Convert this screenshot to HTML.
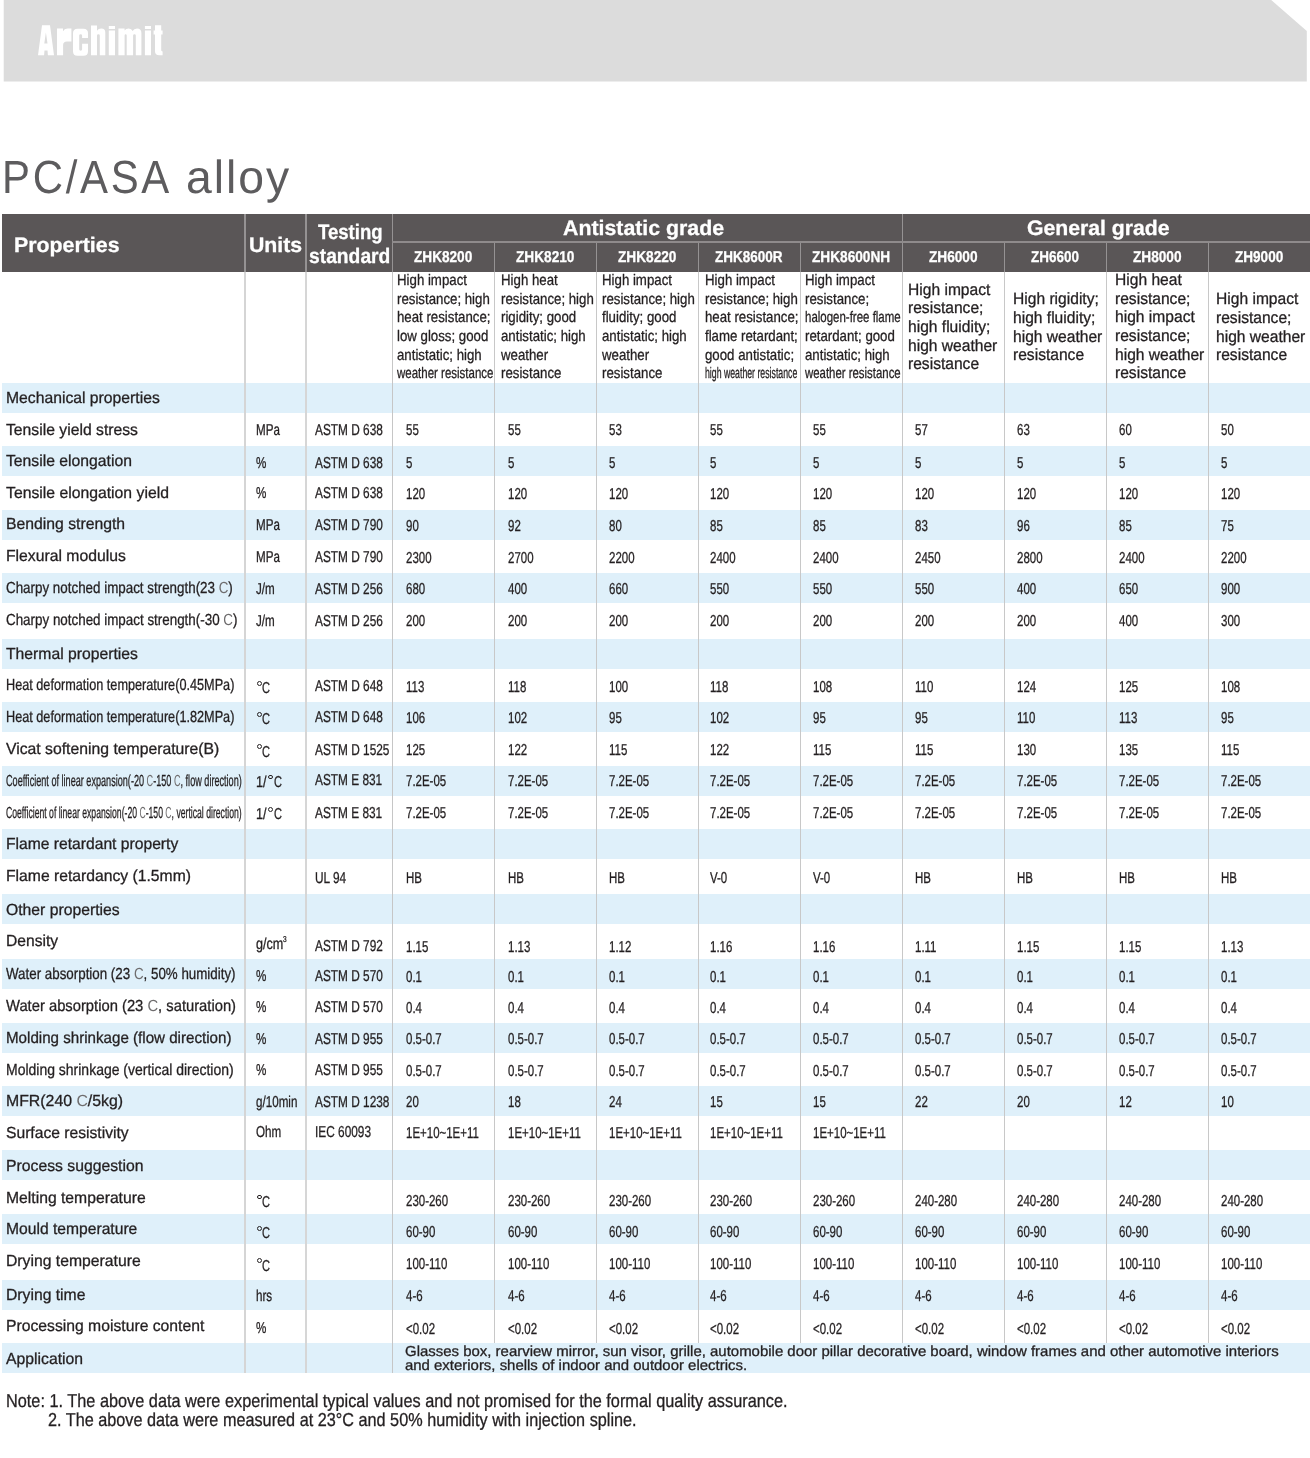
<!DOCTYPE html>
<html><head><meta charset="utf-8"><style>
html,body{margin:0;padding:0;background:#fff;}
body{width:1310px;height:1458px;position:relative;overflow:hidden;font-family:"Liberation Sans",sans-serif;color:#231f20;text-rendering:geometricPrecision;}
.t{position:absolute;white-space:nowrap;line-height:1;transform-origin:0 0;-webkit-text-stroke-width:0.3px;}
.r{position:absolute;}
.dc{color:#6f6d6e;-webkit-text-stroke-width:0;}
</style></head><body><div id="w" style="position:absolute;left:0;top:0;width:1310px;height:1458px;will-change:transform;">
<svg class="r" style="left:0;top:0" width="1310" height="90"><polygon points="3.7,0 1271.2,0 1306.8,31 1306.8,81.6 3.7,81.6" fill="#dcdcdc"/></svg>
<svg class="r" style="left:0;top:0" width="200" height="70"><g fill="#ffffff" fill-rule="evenodd"><path d="M38,55.3 L42,25.3 H50 L54,55.3 H47.9 L47.5,50.6 H44.5 L44.1,55.3 Z M44.3,43.6 L45.9,32.6 L47.5,43.6 Z"/><path d="M57,55.3 V28.6 H63 V31.2 Q64.3,28.6 67.5,28.6 H71.4 V41.4 H67 Q63.1,41.4 63.1,45 V55.3 Z"/><path d="M88,37.9 H82.1 V35.6 Q82.1,34.2 80.65,34.2 Q79.2,34.2 79.2,35.6 V49.3 Q79.2,50.7 80.65,50.7 Q82.1,50.7 82.1,49.3 V43.8 H88 V51.3 Q88,55.8 83.5,55.8 H77.5 Q73,55.8 73,51.3 V33.3 Q73,28.8 77.5,28.8 H83.5 Q88,28.8 88,33.3 Z"/><path d="M91,55.3 V25.6 H97 V30.8 Q98.3,28.5 101.3,28.5 Q105.3,28.5 105.3,32.5 V55.3 H99.8 V35.6 Q99.8,34.2 98.4,34.2 Q97,34.2 97,35.6 V55.3 Z"/><path d="M108.8,25.9 H115 V28.9 H108.8 Z M108.8,30.4 H115 V55.3 H108.8 Z"/><path d="M118.4,55.3 V28.5 H124.6 V30.6 Q125.8,28.5 128.6,28.5 Q131.6,28.5 132.6,31 Q134,28.5 137,28.5 Q141.4,28.5 141.4,33 V55.3 H135.8 V35.6 Q135.8,34.2 134.45,34.2 Q133.1,34.2 133.1,35.6 V55.3 H126.7 V35.6 Q126.7,34.2 125.65,34.2 Q124.6,34.2 124.6,35.6 V55.3 Z"/><path d="M144.9,25.9 H151 V28.9 H144.9 Z M144.9,30.4 H151 V55.3 H144.9 Z"/><path d="M155,25.3 H161.2 V30.4 H162.6 V34.4 H161.2 V50.3 Q161.2,51.4 162.6,51.4 V55.3 H159.3 Q155,55.3 155,51.2 V34.4 H153.6 V30.4 H155 Z"/></g></svg>
<div class="t" style="left:2.26px;top:154.00px;font-size:46.5px;transform:scaleX(0.9017);color:#5d5c5e;-webkit-text-stroke-width:0;letter-spacing:3.0px;">PC/ASA</div>
<div class="t" style="left:185.85px;top:154.00px;font-size:46.5px;transform:scaleX(0.9960);color:#5d5c5e;-webkit-text-stroke-width:0;letter-spacing:2.0px;">alloy</div>
<div class="r" style="left:1.5px;top:213.8px;width:1308.5px;height:57.80000000000001px;background:#5a5657;"></div>
<div class="r" style="left:244px;top:213.8px;width:2px;height:57.80000000000001px;background:#959293;"></div>
<div class="r" style="left:305px;top:213.8px;width:2px;height:57.80000000000001px;background:#959293;"></div>
<div class="r" style="left:392px;top:213.8px;width:1.3px;height:57.80000000000001px;background:#959293;"></div>
<div class="r" style="left:902px;top:213.8px;width:1.3px;height:57.80000000000001px;background:#959293;"></div>
<div class="r" style="left:494px;top:242.0px;width:1.3px;height:29.600000000000023px;background:#959293;"></div>
<div class="r" style="left:596px;top:242.0px;width:1.3px;height:29.600000000000023px;background:#959293;"></div>
<div class="r" style="left:698px;top:242.0px;width:1.3px;height:29.600000000000023px;background:#959293;"></div>
<div class="r" style="left:800px;top:242.0px;width:1.3px;height:29.600000000000023px;background:#959293;"></div>
<div class="r" style="left:1004px;top:242.0px;width:1.3px;height:29.600000000000023px;background:#959293;"></div>
<div class="r" style="left:1106px;top:242.0px;width:1.3px;height:29.600000000000023px;background:#959293;"></div>
<div class="r" style="left:1208px;top:242.0px;width:1.3px;height:29.600000000000023px;background:#959293;"></div>
<div class="r" style="left:392.0px;top:241.0px;width:918px;height:1.8px;background:#8f8b8c;"></div>
<div class="t" style="left:13.87px;top:235.00px;font-size:21px;font-weight:bold;transform:scaleX(1.0158);color:#ffffff;">Properties</div>
<div class="t" style="left:248.52px;top:235.00px;font-size:21px;font-weight:bold;transform:scaleX(1.0123);color:#ffffff;">Units</div>
<div class="t" style="left:318.30px;top:222.00px;font-size:21px;font-weight:bold;transform:scaleX(0.8841);color:#ffffff;">Testing</div>
<div class="t" style="left:308.63px;top:246.00px;font-size:21px;font-weight:bold;transform:scaleX(0.9173);color:#ffffff;">standard</div>
<div class="t" style="left:563.47px;top:218.00px;font-size:21px;font-weight:bold;transform:scaleX(1.0149);color:#ffffff;">Antistatic grade</div>
<div class="t" style="left:1027.03px;top:218.00px;font-size:21px;font-weight:bold;transform:scaleX(1.0097);color:#ffffff;">General grade</div>
<div class="t" style="left:414.39px;top:250.00px;font-size:15.7px;font-weight:bold;transform:scaleX(0.8671);color:#ffffff;">ZHK8200</div>
<div class="t" style="left:516.29px;top:250.00px;font-size:15.7px;font-weight:bold;transform:scaleX(0.8701);color:#ffffff;">ZHK8210</div>
<div class="t" style="left:618.29px;top:250.00px;font-size:15.7px;font-weight:bold;transform:scaleX(0.8701);color:#ffffff;">ZHK8220</div>
<div class="t" style="left:715.40px;top:250.00px;font-size:15.7px;font-weight:bold;transform:scaleX(0.8594);color:#ffffff;">ZHK8600R</div>
<div class="t" style="left:812.49px;top:250.00px;font-size:15.7px;font-weight:bold;transform:scaleX(0.8705);color:#ffffff;">ZHK8600NH</div>
<div class="t" style="left:928.79px;top:250.00px;font-size:15.7px;font-weight:bold;transform:scaleX(0.8697);color:#ffffff;">ZH6000</div>
<div class="t" style="left:1031.20px;top:250.00px;font-size:15.7px;font-weight:bold;transform:scaleX(0.8588);color:#ffffff;">ZH6600</div>
<div class="t" style="left:1132.99px;top:250.00px;font-size:15.7px;font-weight:bold;transform:scaleX(0.8697);color:#ffffff;">ZH8000</div>
<div class="t" style="left:1234.69px;top:250.00px;font-size:15.7px;font-weight:bold;transform:scaleX(0.8642);color:#ffffff;">ZH9000</div>
<div class="t" style="left:396.90px;top:273.00px;font-size:15.3px;transform:scaleX(0.8660);">High impact</div>
<div class="t" style="left:396.90px;top:292.00px;font-size:15.3px;transform:scaleX(0.8660);">resistance; high</div>
<div class="t" style="left:396.90px;top:310.00px;font-size:15.3px;transform:scaleX(0.8660);">heat resistance;</div>
<div class="t" style="left:396.90px;top:329.00px;font-size:15.3px;transform:scaleX(0.8660);">low gloss; good</div>
<div class="t" style="left:396.90px;top:348.00px;font-size:15.3px;transform:scaleX(0.8660);">antistatic; high</div>
<div class="t" style="left:396.90px;top:366.00px;font-size:15.3px;transform:scaleX(0.7515);">weather resistance</div>
<div class="t" style="left:501.30px;top:273.00px;font-size:15.3px;transform:scaleX(0.8660);">High heat</div>
<div class="t" style="left:501.30px;top:292.00px;font-size:15.3px;transform:scaleX(0.8660);">resistance; high</div>
<div class="t" style="left:501.30px;top:310.00px;font-size:15.3px;transform:scaleX(0.8660);">rigidity; good</div>
<div class="t" style="left:501.30px;top:329.00px;font-size:15.3px;transform:scaleX(0.8660);">antistatic; high</div>
<div class="t" style="left:501.30px;top:348.00px;font-size:15.3px;transform:scaleX(0.8660);">weather</div>
<div class="t" style="left:501.30px;top:366.00px;font-size:15.3px;transform:scaleX(0.8660);">resistance</div>
<div class="t" style="left:602.40px;top:273.00px;font-size:15.3px;transform:scaleX(0.8660);">High impact</div>
<div class="t" style="left:602.40px;top:292.00px;font-size:15.3px;transform:scaleX(0.8660);">resistance; high</div>
<div class="t" style="left:602.40px;top:310.00px;font-size:15.3px;transform:scaleX(0.8660);">fluidity; good</div>
<div class="t" style="left:602.40px;top:329.00px;font-size:15.3px;transform:scaleX(0.8660);">antistatic; high</div>
<div class="t" style="left:602.40px;top:348.00px;font-size:15.3px;transform:scaleX(0.8660);">weather</div>
<div class="t" style="left:602.40px;top:366.00px;font-size:15.3px;transform:scaleX(0.8660);">resistance</div>
<div class="t" style="left:704.80px;top:273.00px;font-size:15.3px;transform:scaleX(0.8660);">High impact</div>
<div class="t" style="left:704.80px;top:292.00px;font-size:15.3px;transform:scaleX(0.8660);">resistance; high</div>
<div class="t" style="left:704.80px;top:310.00px;font-size:15.3px;transform:scaleX(0.8660);">heat resistance;</div>
<div class="t" style="left:704.80px;top:329.00px;font-size:15.3px;transform:scaleX(0.8660);">flame retardant;</div>
<div class="t" style="left:704.80px;top:348.00px;font-size:15.3px;transform:scaleX(0.8660);">good antistatic;</div>
<div class="t" style="left:704.80px;top:366.00px;font-size:15.3px;transform:scaleX(0.5711);">high weather resistance</div>
<div class="t" style="left:804.70px;top:273.00px;font-size:15.3px;transform:scaleX(0.8660);">High impact</div>
<div class="t" style="left:804.70px;top:292.00px;font-size:15.3px;transform:scaleX(0.8660);">resistance;</div>
<div class="t" style="left:804.70px;top:310.00px;font-size:15.3px;transform:scaleX(0.7502);">halogen-free flame</div>
<div class="t" style="left:804.70px;top:329.00px;font-size:15.3px;transform:scaleX(0.8660);">retardant; good</div>
<div class="t" style="left:804.70px;top:348.00px;font-size:15.3px;transform:scaleX(0.8660);">antistatic; high</div>
<div class="t" style="left:804.70px;top:366.00px;font-size:15.3px;transform:scaleX(0.7453);">weather resistance</div>
<div class="t" style="left:908.40px;top:282.00px;font-size:16.3px;transform:scaleX(0.9580);">High impact</div>
<div class="t" style="left:908.40px;top:300.00px;font-size:16.3px;transform:scaleX(0.9580);">resistance;</div>
<div class="t" style="left:908.40px;top:319.00px;font-size:16.3px;transform:scaleX(0.9580);">high fluidity;</div>
<div class="t" style="left:908.40px;top:338.00px;font-size:16.3px;transform:scaleX(0.9580);">high weather</div>
<div class="t" style="left:908.40px;top:356.00px;font-size:16.3px;transform:scaleX(0.9580);">resistance</div>
<div class="t" style="left:1012.60px;top:291.00px;font-size:16.3px;transform:scaleX(0.9580);">High rigidity;</div>
<div class="t" style="left:1012.60px;top:310.00px;font-size:16.3px;transform:scaleX(0.9580);">high fluidity;</div>
<div class="t" style="left:1012.60px;top:329.00px;font-size:16.3px;transform:scaleX(0.9580);">high weather</div>
<div class="t" style="left:1012.60px;top:347.00px;font-size:16.3px;transform:scaleX(0.9580);">resistance</div>
<div class="t" style="left:1115.20px;top:272.00px;font-size:16.3px;transform:scaleX(0.9580);">High heat</div>
<div class="t" style="left:1115.20px;top:291.00px;font-size:16.3px;transform:scaleX(0.9580);">resistance;</div>
<div class="t" style="left:1115.20px;top:309.00px;font-size:16.3px;transform:scaleX(0.9580);">high impact</div>
<div class="t" style="left:1115.20px;top:328.00px;font-size:16.3px;transform:scaleX(0.9580);">resistance;</div>
<div class="t" style="left:1115.20px;top:347.00px;font-size:16.3px;transform:scaleX(0.9580);">high weather</div>
<div class="t" style="left:1115.20px;top:365.00px;font-size:16.3px;transform:scaleX(0.9580);">resistance</div>
<div class="t" style="left:1216.20px;top:291.00px;font-size:16.3px;transform:scaleX(0.9580);">High impact</div>
<div class="t" style="left:1216.20px;top:310.00px;font-size:16.3px;transform:scaleX(0.9580);">resistance;</div>
<div class="t" style="left:1216.20px;top:329.00px;font-size:16.3px;transform:scaleX(0.9580);">high weather</div>
<div class="t" style="left:1216.20px;top:347.00px;font-size:16.3px;transform:scaleX(0.9580);">resistance</div>
<div class="r" style="left:1.5px;top:382.5px;width:1308.5px;height:30.0px;background:#dff0fa;"></div>
<div class="r" style="left:1.5px;top:446.0px;width:1308.5px;height:30.0px;background:#dff0fa;"></div>
<div class="r" style="left:1.5px;top:509.6px;width:1308.5px;height:30.0px;background:#dff0fa;"></div>
<div class="r" style="left:1.5px;top:573.1px;width:1308.5px;height:30.0px;background:#dff0fa;"></div>
<div class="r" style="left:1.5px;top:638.9px;width:1308.5px;height:30.0px;background:#dff0fa;"></div>
<div class="r" style="left:1.5px;top:702.2px;width:1308.5px;height:30.0px;background:#dff0fa;"></div>
<div class="r" style="left:1.5px;top:765.6px;width:1308.5px;height:30.0px;background:#dff0fa;"></div>
<div class="r" style="left:1.5px;top:829.1px;width:1308.5px;height:30.0px;background:#dff0fa;"></div>
<div class="r" style="left:1.5px;top:893.7px;width:1308.5px;height:30.0px;background:#dff0fa;"></div>
<div class="r" style="left:1.5px;top:959.3px;width:1308.5px;height:30.0px;background:#dff0fa;"></div>
<div class="r" style="left:1.5px;top:1022.5px;width:1308.5px;height:30.0px;background:#dff0fa;"></div>
<div class="r" style="left:1.5px;top:1085.9px;width:1308.5px;height:30.0px;background:#dff0fa;"></div>
<div class="r" style="left:1.5px;top:1149.8px;width:1308.5px;height:30.0px;background:#dff0fa;"></div>
<div class="r" style="left:1.5px;top:1214.3px;width:1308.5px;height:30.0px;background:#dff0fa;"></div>
<div class="r" style="left:1.5px;top:1279.8px;width:1308.5px;height:30.0px;background:#dff0fa;"></div>
<div class="r" style="left:1.5px;top:1343.1px;width:1308.5px;height:30.0px;background:#dff0fa;"></div>
<div class="r" style="left:244px;top:271.6px;width:2px;height:1101.5px;background:#d5d5d5;"></div>
<div class="r" style="left:305px;top:271.6px;width:2px;height:1101.5px;background:#d6d6d6;"></div>
<div class="r" style="left:392px;top:271.6px;width:1.3px;height:1101.5px;background:#c6c6c6;"></div>
<div class="r" style="left:494px;top:271.6px;width:1.3px;height:1071.5px;background:#c8c8c8;"></div>
<div class="r" style="left:596px;top:271.6px;width:1.3px;height:1071.5px;background:#c8c8c8;"></div>
<div class="r" style="left:698px;top:271.6px;width:1.3px;height:1071.5px;background:#c8c8c8;"></div>
<div class="r" style="left:800px;top:271.6px;width:1.3px;height:1071.5px;background:#c8c8c8;"></div>
<div class="r" style="left:902px;top:271.6px;width:1.3px;height:1071.5px;background:#c8c8c8;"></div>
<div class="r" style="left:1004px;top:271.6px;width:1.3px;height:1071.5px;background:#c8c8c8;"></div>
<div class="r" style="left:1106px;top:271.6px;width:1.3px;height:1071.5px;background:#c8c8c8;"></div>
<div class="r" style="left:1208px;top:271.6px;width:1.3px;height:1071.5px;background:#c8c8c8;"></div>
<div class="t" style="left:6.00px;top:391.00px;font-size:16.0px;transform:scaleX(0.9824);">Mechanical properties</div>
<div class="t" style="left:6.00px;top:423.00px;font-size:16.0px;transform:scaleX(0.9828);">Tensile yield stress</div>
<div class="t" style="left:256.20px;top:423.00px;font-size:15.8px;transform:scaleX(0.7360);">MPa</div>
<div class="t" style="left:314.60px;top:423.00px;font-size:15.8px;transform:scaleX(0.7500);">ASTM D 638</div>
<div class="t" style="left:405.70px;top:423.00px;font-size:15.8px;transform:scaleX(0.7270);">55</div>
<div class="t" style="left:507.50px;top:423.00px;font-size:15.8px;transform:scaleX(0.7270);">55</div>
<div class="t" style="left:609.40px;top:423.00px;font-size:15.8px;transform:scaleX(0.7270);">53</div>
<div class="t" style="left:710.10px;top:423.00px;font-size:15.8px;transform:scaleX(0.7270);">55</div>
<div class="t" style="left:813.00px;top:423.00px;font-size:15.8px;transform:scaleX(0.7270);">55</div>
<div class="t" style="left:915.20px;top:423.00px;font-size:15.8px;transform:scaleX(0.7270);">57</div>
<div class="t" style="left:1017.40px;top:423.00px;font-size:15.8px;transform:scaleX(0.7270);">63</div>
<div class="t" style="left:1119.20px;top:423.00px;font-size:15.8px;transform:scaleX(0.7270);">60</div>
<div class="t" style="left:1221.00px;top:423.00px;font-size:15.8px;transform:scaleX(0.7270);">50</div>
<div class="t" style="left:6.00px;top:454.00px;font-size:16.0px;transform:scaleX(0.9830);">Tensile elongation</div>
<div class="t" style="left:256.20px;top:456.00px;font-size:15.8px;transform:scaleX(0.7360);">%</div>
<div class="t" style="left:314.60px;top:456.00px;font-size:15.8px;transform:scaleX(0.7500);">ASTM D 638</div>
<div class="t" style="left:405.70px;top:456.00px;font-size:15.8px;transform:scaleX(0.7270);">5</div>
<div class="t" style="left:507.50px;top:456.00px;font-size:15.8px;transform:scaleX(0.7270);">5</div>
<div class="t" style="left:609.40px;top:456.00px;font-size:15.8px;transform:scaleX(0.7270);">5</div>
<div class="t" style="left:710.10px;top:456.00px;font-size:15.8px;transform:scaleX(0.7270);">5</div>
<div class="t" style="left:813.00px;top:456.00px;font-size:15.8px;transform:scaleX(0.7270);">5</div>
<div class="t" style="left:915.20px;top:456.00px;font-size:15.8px;transform:scaleX(0.7270);">5</div>
<div class="t" style="left:1017.40px;top:456.00px;font-size:15.8px;transform:scaleX(0.7270);">5</div>
<div class="t" style="left:1119.20px;top:456.00px;font-size:15.8px;transform:scaleX(0.7270);">5</div>
<div class="t" style="left:1221.00px;top:456.00px;font-size:15.8px;transform:scaleX(0.7270);">5</div>
<div class="t" style="left:6.00px;top:486.00px;font-size:16.0px;transform:scaleX(0.9847);">Tensile elongation yield</div>
<div class="t" style="left:256.20px;top:486.00px;font-size:15.8px;transform:scaleX(0.7360);">%</div>
<div class="t" style="left:314.60px;top:486.00px;font-size:15.8px;transform:scaleX(0.7500);">ASTM D 638</div>
<div class="t" style="left:405.70px;top:487.00px;font-size:15.8px;transform:scaleX(0.7270);">120</div>
<div class="t" style="left:507.50px;top:487.00px;font-size:15.8px;transform:scaleX(0.7270);">120</div>
<div class="t" style="left:609.40px;top:487.00px;font-size:15.8px;transform:scaleX(0.7270);">120</div>
<div class="t" style="left:710.10px;top:487.00px;font-size:15.8px;transform:scaleX(0.7270);">120</div>
<div class="t" style="left:813.00px;top:487.00px;font-size:15.8px;transform:scaleX(0.7270);">120</div>
<div class="t" style="left:915.20px;top:487.00px;font-size:15.8px;transform:scaleX(0.7270);">120</div>
<div class="t" style="left:1017.40px;top:487.00px;font-size:15.8px;transform:scaleX(0.7270);">120</div>
<div class="t" style="left:1119.20px;top:487.00px;font-size:15.8px;transform:scaleX(0.7270);">120</div>
<div class="t" style="left:1221.00px;top:487.00px;font-size:15.8px;transform:scaleX(0.7270);">120</div>
<div class="t" style="left:6.00px;top:517.00px;font-size:16.0px;transform:scaleX(0.9839);">Bending strength</div>
<div class="t" style="left:256.20px;top:518.00px;font-size:15.8px;transform:scaleX(0.7360);">MPa</div>
<div class="t" style="left:314.60px;top:518.00px;font-size:15.8px;transform:scaleX(0.7500);">ASTM D 790</div>
<div class="t" style="left:405.70px;top:519.00px;font-size:15.8px;transform:scaleX(0.7270);">90</div>
<div class="t" style="left:507.50px;top:519.00px;font-size:15.8px;transform:scaleX(0.7270);">92</div>
<div class="t" style="left:609.40px;top:519.00px;font-size:15.8px;transform:scaleX(0.7270);">80</div>
<div class="t" style="left:710.10px;top:519.00px;font-size:15.8px;transform:scaleX(0.7270);">85</div>
<div class="t" style="left:813.00px;top:519.00px;font-size:15.8px;transform:scaleX(0.7270);">85</div>
<div class="t" style="left:915.20px;top:519.00px;font-size:15.8px;transform:scaleX(0.7270);">83</div>
<div class="t" style="left:1017.40px;top:519.00px;font-size:15.8px;transform:scaleX(0.7270);">96</div>
<div class="t" style="left:1119.20px;top:519.00px;font-size:15.8px;transform:scaleX(0.7270);">85</div>
<div class="t" style="left:1221.00px;top:519.00px;font-size:15.8px;transform:scaleX(0.7270);">75</div>
<div class="t" style="left:6.00px;top:549.00px;font-size:16.0px;transform:scaleX(0.9831);">Flexural modulus</div>
<div class="t" style="left:256.20px;top:550.00px;font-size:15.8px;transform:scaleX(0.7360);">MPa</div>
<div class="t" style="left:314.60px;top:550.00px;font-size:15.8px;transform:scaleX(0.7500);">ASTM D 790</div>
<div class="t" style="left:405.70px;top:551.00px;font-size:15.8px;transform:scaleX(0.7270);">2300</div>
<div class="t" style="left:507.50px;top:551.00px;font-size:15.8px;transform:scaleX(0.7270);">2700</div>
<div class="t" style="left:609.40px;top:551.00px;font-size:15.8px;transform:scaleX(0.7270);">2200</div>
<div class="t" style="left:710.10px;top:551.00px;font-size:15.8px;transform:scaleX(0.7270);">2400</div>
<div class="t" style="left:813.00px;top:551.00px;font-size:15.8px;transform:scaleX(0.7270);">2400</div>
<div class="t" style="left:915.20px;top:551.00px;font-size:15.8px;transform:scaleX(0.7270);">2450</div>
<div class="t" style="left:1017.40px;top:551.00px;font-size:15.8px;transform:scaleX(0.7270);">2800</div>
<div class="t" style="left:1119.20px;top:551.00px;font-size:15.8px;transform:scaleX(0.7270);">2400</div>
<div class="t" style="left:1221.00px;top:551.00px;font-size:15.8px;transform:scaleX(0.7270);">2200</div>
<div class="t" style="left:6.00px;top:581.00px;font-size:16.0px;transform:scaleX(0.8362);">Charpy notched impact strength(23 <span class="dc">C</span>)</div>
<div class="t" style="left:256.20px;top:582.00px;font-size:15.8px;transform:scaleX(0.7360);">J/m</div>
<div class="t" style="left:314.60px;top:582.00px;font-size:15.8px;transform:scaleX(0.7500);">ASTM D 256</div>
<div class="t" style="left:405.70px;top:582.00px;font-size:15.8px;transform:scaleX(0.7270);">680</div>
<div class="t" style="left:507.50px;top:582.00px;font-size:15.8px;transform:scaleX(0.7270);">400</div>
<div class="t" style="left:609.40px;top:582.00px;font-size:15.8px;transform:scaleX(0.7270);">660</div>
<div class="t" style="left:710.10px;top:582.00px;font-size:15.8px;transform:scaleX(0.7270);">550</div>
<div class="t" style="left:813.00px;top:582.00px;font-size:15.8px;transform:scaleX(0.7270);">550</div>
<div class="t" style="left:915.20px;top:582.00px;font-size:15.8px;transform:scaleX(0.7270);">550</div>
<div class="t" style="left:1017.40px;top:582.00px;font-size:15.8px;transform:scaleX(0.7270);">400</div>
<div class="t" style="left:1119.20px;top:582.00px;font-size:15.8px;transform:scaleX(0.7270);">650</div>
<div class="t" style="left:1221.00px;top:582.00px;font-size:15.8px;transform:scaleX(0.7270);">900</div>
<div class="t" style="left:6.00px;top:613.00px;font-size:16.0px;transform:scaleX(0.8368);">Charpy notched impact strength(-30 <span class="dc">C</span>)</div>
<div class="t" style="left:256.20px;top:614.00px;font-size:15.8px;transform:scaleX(0.7360);">J/m</div>
<div class="t" style="left:314.60px;top:614.00px;font-size:15.8px;transform:scaleX(0.7500);">ASTM D 256</div>
<div class="t" style="left:405.70px;top:614.00px;font-size:15.8px;transform:scaleX(0.7270);">200</div>
<div class="t" style="left:507.50px;top:614.00px;font-size:15.8px;transform:scaleX(0.7270);">200</div>
<div class="t" style="left:609.40px;top:614.00px;font-size:15.8px;transform:scaleX(0.7270);">200</div>
<div class="t" style="left:710.10px;top:614.00px;font-size:15.8px;transform:scaleX(0.7270);">200</div>
<div class="t" style="left:813.00px;top:614.00px;font-size:15.8px;transform:scaleX(0.7270);">200</div>
<div class="t" style="left:915.20px;top:614.00px;font-size:15.8px;transform:scaleX(0.7270);">200</div>
<div class="t" style="left:1017.40px;top:614.00px;font-size:15.8px;transform:scaleX(0.7270);">200</div>
<div class="t" style="left:1119.20px;top:614.00px;font-size:15.8px;transform:scaleX(0.7270);">400</div>
<div class="t" style="left:1221.00px;top:614.00px;font-size:15.8px;transform:scaleX(0.7270);">300</div>
<div class="t" style="left:6.00px;top:647.00px;font-size:16.0px;transform:scaleX(0.9828);">Thermal properties</div>
<div class="t" style="left:6.00px;top:678.00px;font-size:16.0px;transform:scaleX(0.7926);">Heat deformation temperature(0.45MPa)</div>
<div class="r" style="left:256.90px;top:680.70px;width:4.9px;height:4.9px;border:1.3px solid #231f20;border-radius:50%;box-sizing:border-box;"></div>
<div class="t" style="left:262.24px;top:681.00px;font-size:15.8px;transform:scaleX(0.6999);">C</div>
<div class="t" style="left:314.60px;top:679.00px;font-size:15.8px;transform:scaleX(0.7500);">ASTM D 648</div>
<div class="t" style="left:405.70px;top:680.00px;font-size:15.8px;transform:scaleX(0.7270);">113</div>
<div class="t" style="left:507.50px;top:680.00px;font-size:15.8px;transform:scaleX(0.7270);">118</div>
<div class="t" style="left:609.40px;top:680.00px;font-size:15.8px;transform:scaleX(0.7270);">100</div>
<div class="t" style="left:710.10px;top:680.00px;font-size:15.8px;transform:scaleX(0.7270);">118</div>
<div class="t" style="left:813.00px;top:680.00px;font-size:15.8px;transform:scaleX(0.7270);">108</div>
<div class="t" style="left:915.20px;top:680.00px;font-size:15.8px;transform:scaleX(0.7270);">110</div>
<div class="t" style="left:1017.40px;top:680.00px;font-size:15.8px;transform:scaleX(0.7270);">124</div>
<div class="t" style="left:1119.20px;top:680.00px;font-size:15.8px;transform:scaleX(0.7270);">125</div>
<div class="t" style="left:1221.00px;top:680.00px;font-size:15.8px;transform:scaleX(0.7270);">108</div>
<div class="t" style="left:6.00px;top:710.00px;font-size:16.0px;transform:scaleX(0.7926);">Heat deformation temperature(1.82MPa)</div>
<div class="r" style="left:256.90px;top:711.70px;width:4.9px;height:4.9px;border:1.3px solid #231f20;border-radius:50%;box-sizing:border-box;"></div>
<div class="t" style="left:262.24px;top:712.00px;font-size:15.8px;transform:scaleX(0.6999);">C</div>
<div class="t" style="left:314.60px;top:710.00px;font-size:15.8px;transform:scaleX(0.7500);">ASTM D 648</div>
<div class="t" style="left:405.70px;top:711.00px;font-size:15.8px;transform:scaleX(0.7270);">106</div>
<div class="t" style="left:507.50px;top:711.00px;font-size:15.8px;transform:scaleX(0.7270);">102</div>
<div class="t" style="left:609.40px;top:711.00px;font-size:15.8px;transform:scaleX(0.7270);">95</div>
<div class="t" style="left:710.10px;top:711.00px;font-size:15.8px;transform:scaleX(0.7270);">102</div>
<div class="t" style="left:813.00px;top:711.00px;font-size:15.8px;transform:scaleX(0.7270);">95</div>
<div class="t" style="left:915.20px;top:711.00px;font-size:15.8px;transform:scaleX(0.7270);">95</div>
<div class="t" style="left:1017.40px;top:711.00px;font-size:15.8px;transform:scaleX(0.7270);">110</div>
<div class="t" style="left:1119.20px;top:711.00px;font-size:15.8px;transform:scaleX(0.7270);">113</div>
<div class="t" style="left:1221.00px;top:711.00px;font-size:15.8px;transform:scaleX(0.7270);">95</div>
<div class="t" style="left:6.00px;top:742.00px;font-size:16.0px;transform:scaleX(0.9842);">Vicat softening temperature(B)</div>
<div class="r" style="left:256.90px;top:744.20px;width:4.9px;height:4.9px;border:1.3px solid #231f20;border-radius:50%;box-sizing:border-box;"></div>
<div class="t" style="left:262.24px;top:745.00px;font-size:15.8px;transform:scaleX(0.6999);">C</div>
<div class="t" style="left:314.60px;top:743.00px;font-size:15.8px;transform:scaleX(0.7500);">ASTM D 1525</div>
<div class="t" style="left:405.70px;top:743.00px;font-size:15.8px;transform:scaleX(0.7270);">125</div>
<div class="t" style="left:507.50px;top:743.00px;font-size:15.8px;transform:scaleX(0.7270);">122</div>
<div class="t" style="left:609.40px;top:743.00px;font-size:15.8px;transform:scaleX(0.7270);">115</div>
<div class="t" style="left:710.10px;top:743.00px;font-size:15.8px;transform:scaleX(0.7270);">122</div>
<div class="t" style="left:813.00px;top:743.00px;font-size:15.8px;transform:scaleX(0.7270);">115</div>
<div class="t" style="left:915.20px;top:743.00px;font-size:15.8px;transform:scaleX(0.7270);">115</div>
<div class="t" style="left:1017.40px;top:743.00px;font-size:15.8px;transform:scaleX(0.7270);">130</div>
<div class="t" style="left:1119.20px;top:743.00px;font-size:15.8px;transform:scaleX(0.7270);">135</div>
<div class="t" style="left:1221.00px;top:743.00px;font-size:15.8px;transform:scaleX(0.7270);">115</div>
<div class="t" style="left:6.00px;top:774.00px;font-size:16.0px;transform:scaleX(0.5693);">Coefficient of linear expansion(-20 <span class="dc">C</span>-150 <span class="dc">C</span>, flow direction)</div>
<div class="t" style="left:256.20px;top:775.00px;font-size:15.8px;transform:scaleX(0.8000);">1/</div>
<div class="r" style="left:268.00px;top:774.50px;width:4.9px;height:4.9px;border:1.3px solid #231f20;border-radius:50%;box-sizing:border-box;"></div>
<div class="t" style="left:273.84px;top:775.00px;font-size:15.8px;transform:scaleX(0.6999);">C</div>
<div class="t" style="left:314.60px;top:773.00px;font-size:15.8px;transform:scaleX(0.7500);">ASTM E 831</div>
<div class="t" style="left:405.70px;top:774.00px;font-size:15.8px;transform:scaleX(0.7270);">7.2E-05</div>
<div class="t" style="left:507.50px;top:774.00px;font-size:15.8px;transform:scaleX(0.7270);">7.2E-05</div>
<div class="t" style="left:609.40px;top:774.00px;font-size:15.8px;transform:scaleX(0.7270);">7.2E-05</div>
<div class="t" style="left:710.10px;top:774.00px;font-size:15.8px;transform:scaleX(0.7270);">7.2E-05</div>
<div class="t" style="left:813.00px;top:774.00px;font-size:15.8px;transform:scaleX(0.7270);">7.2E-05</div>
<div class="t" style="left:915.20px;top:774.00px;font-size:15.8px;transform:scaleX(0.7270);">7.2E-05</div>
<div class="t" style="left:1017.40px;top:774.00px;font-size:15.8px;transform:scaleX(0.7270);">7.2E-05</div>
<div class="t" style="left:1119.20px;top:774.00px;font-size:15.8px;transform:scaleX(0.7270);">7.2E-05</div>
<div class="t" style="left:1221.00px;top:774.00px;font-size:15.8px;transform:scaleX(0.7270);">7.2E-05</div>
<div class="t" style="left:6.00px;top:806.00px;font-size:16.0px;transform:scaleX(0.5402);">Coefficient of linear expansion(-20 <span class="dc">C</span>-150 <span class="dc">C</span>, vertical direction)</div>
<div class="t" style="left:256.20px;top:807.00px;font-size:15.8px;transform:scaleX(0.8000);">1/</div>
<div class="r" style="left:268.00px;top:807.00px;width:4.9px;height:4.9px;border:1.3px solid #231f20;border-radius:50%;box-sizing:border-box;"></div>
<div class="t" style="left:273.84px;top:807.00px;font-size:15.8px;transform:scaleX(0.6999);">C</div>
<div class="t" style="left:314.60px;top:806.00px;font-size:15.8px;transform:scaleX(0.7500);">ASTM E 831</div>
<div class="t" style="left:405.70px;top:806.00px;font-size:15.8px;transform:scaleX(0.7270);">7.2E-05</div>
<div class="t" style="left:507.50px;top:806.00px;font-size:15.8px;transform:scaleX(0.7270);">7.2E-05</div>
<div class="t" style="left:609.40px;top:806.00px;font-size:15.8px;transform:scaleX(0.7270);">7.2E-05</div>
<div class="t" style="left:710.10px;top:806.00px;font-size:15.8px;transform:scaleX(0.7270);">7.2E-05</div>
<div class="t" style="left:813.00px;top:806.00px;font-size:15.8px;transform:scaleX(0.7270);">7.2E-05</div>
<div class="t" style="left:915.20px;top:806.00px;font-size:15.8px;transform:scaleX(0.7270);">7.2E-05</div>
<div class="t" style="left:1017.40px;top:806.00px;font-size:15.8px;transform:scaleX(0.7270);">7.2E-05</div>
<div class="t" style="left:1119.20px;top:806.00px;font-size:15.8px;transform:scaleX(0.7270);">7.2E-05</div>
<div class="t" style="left:1221.00px;top:806.00px;font-size:15.8px;transform:scaleX(0.7270);">7.2E-05</div>
<div class="t" style="left:6.00px;top:837.00px;font-size:16.0px;transform:scaleX(0.9781);">Flame retardant property</div>
<div class="t" style="left:6.00px;top:869.00px;font-size:16.0px;transform:scaleX(0.9813);">Flame retardancy (1.5mm)</div>
<div class="t" style="left:314.60px;top:871.00px;font-size:15.8px;transform:scaleX(0.7500);">UL 94</div>
<div class="t" style="left:405.70px;top:871.00px;font-size:15.8px;transform:scaleX(0.7270);">HB</div>
<div class="t" style="left:507.50px;top:871.00px;font-size:15.8px;transform:scaleX(0.7270);">HB</div>
<div class="t" style="left:609.40px;top:871.00px;font-size:15.8px;transform:scaleX(0.7270);">HB</div>
<div class="t" style="left:710.10px;top:871.00px;font-size:15.8px;transform:scaleX(0.7270);">V-0</div>
<div class="t" style="left:813.00px;top:871.00px;font-size:15.8px;transform:scaleX(0.7270);">V-0</div>
<div class="t" style="left:915.20px;top:871.00px;font-size:15.8px;transform:scaleX(0.7270);">HB</div>
<div class="t" style="left:1017.40px;top:871.00px;font-size:15.8px;transform:scaleX(0.7270);">HB</div>
<div class="t" style="left:1119.20px;top:871.00px;font-size:15.8px;transform:scaleX(0.7270);">HB</div>
<div class="t" style="left:1221.00px;top:871.00px;font-size:15.8px;transform:scaleX(0.7270);">HB</div>
<div class="t" style="left:6.00px;top:903.00px;font-size:16.0px;transform:scaleX(0.9831);">Other properties</div>
<div class="t" style="left:6.00px;top:934.00px;font-size:16.0px;transform:scaleX(0.9754);">Density</div>
<div class="t" style="left:255.77px;top:937.00px;font-size:15.8px;transform:scaleX(0.7992);">g/cm</div>
<div class="t" style="left:282.75px;top:935.00px;font-size:8.5px;transform:scaleX(0.7694);">3</div>
<div class="t" style="left:314.60px;top:939.00px;font-size:15.8px;transform:scaleX(0.7500);">ASTM D 792</div>
<div class="t" style="left:405.70px;top:940.00px;font-size:15.8px;transform:scaleX(0.7270);">1.15</div>
<div class="t" style="left:507.50px;top:940.00px;font-size:15.8px;transform:scaleX(0.7270);">1.13</div>
<div class="t" style="left:609.40px;top:940.00px;font-size:15.8px;transform:scaleX(0.7270);">1.12</div>
<div class="t" style="left:710.10px;top:940.00px;font-size:15.8px;transform:scaleX(0.7270);">1.16</div>
<div class="t" style="left:813.00px;top:940.00px;font-size:15.8px;transform:scaleX(0.7270);">1.16</div>
<div class="t" style="left:915.20px;top:940.00px;font-size:15.8px;transform:scaleX(0.7270);">1.11</div>
<div class="t" style="left:1017.40px;top:940.00px;font-size:15.8px;transform:scaleX(0.7270);">1.15</div>
<div class="t" style="left:1119.20px;top:940.00px;font-size:15.8px;transform:scaleX(0.7270);">1.15</div>
<div class="t" style="left:1221.00px;top:940.00px;font-size:15.8px;transform:scaleX(0.7270);">1.13</div>
<div class="t" style="left:6.00px;top:967.00px;font-size:16.0px;transform:scaleX(0.8344);">Water absorption (23 <span class="dc">C</span>, 50% humidity)</div>
<div class="t" style="left:256.20px;top:969.00px;font-size:15.8px;transform:scaleX(0.7360);">%</div>
<div class="t" style="left:314.60px;top:969.00px;font-size:15.8px;transform:scaleX(0.7500);">ASTM D 570</div>
<div class="t" style="left:405.70px;top:970.00px;font-size:15.8px;transform:scaleX(0.7270);">0.1</div>
<div class="t" style="left:507.50px;top:970.00px;font-size:15.8px;transform:scaleX(0.7270);">0.1</div>
<div class="t" style="left:609.40px;top:970.00px;font-size:15.8px;transform:scaleX(0.7270);">0.1</div>
<div class="t" style="left:710.10px;top:970.00px;font-size:15.8px;transform:scaleX(0.7270);">0.1</div>
<div class="t" style="left:813.00px;top:970.00px;font-size:15.8px;transform:scaleX(0.7270);">0.1</div>
<div class="t" style="left:915.20px;top:970.00px;font-size:15.8px;transform:scaleX(0.7270);">0.1</div>
<div class="t" style="left:1017.40px;top:970.00px;font-size:15.8px;transform:scaleX(0.7270);">0.1</div>
<div class="t" style="left:1119.20px;top:970.00px;font-size:15.8px;transform:scaleX(0.7270);">0.1</div>
<div class="t" style="left:1221.00px;top:970.00px;font-size:15.8px;transform:scaleX(0.7270);">0.1</div>
<div class="t" style="left:6.00px;top:999.00px;font-size:16.0px;transform:scaleX(0.9227);">Water absorption (23 <span class="dc">C</span>, saturation)</div>
<div class="t" style="left:256.20px;top:1000.00px;font-size:15.8px;transform:scaleX(0.7360);">%</div>
<div class="t" style="left:314.60px;top:1000.00px;font-size:15.8px;transform:scaleX(0.7500);">ASTM D 570</div>
<div class="t" style="left:405.70px;top:1001.00px;font-size:15.8px;transform:scaleX(0.7270);">0.4</div>
<div class="t" style="left:507.50px;top:1001.00px;font-size:15.8px;transform:scaleX(0.7270);">0.4</div>
<div class="t" style="left:609.40px;top:1001.00px;font-size:15.8px;transform:scaleX(0.7270);">0.4</div>
<div class="t" style="left:710.10px;top:1001.00px;font-size:15.8px;transform:scaleX(0.7270);">0.4</div>
<div class="t" style="left:813.00px;top:1001.00px;font-size:15.8px;transform:scaleX(0.7270);">0.4</div>
<div class="t" style="left:915.20px;top:1001.00px;font-size:15.8px;transform:scaleX(0.7270);">0.4</div>
<div class="t" style="left:1017.40px;top:1001.00px;font-size:15.8px;transform:scaleX(0.7270);">0.4</div>
<div class="t" style="left:1119.20px;top:1001.00px;font-size:15.8px;transform:scaleX(0.7270);">0.4</div>
<div class="t" style="left:1221.00px;top:1001.00px;font-size:15.8px;transform:scaleX(0.7270);">0.4</div>
<div class="t" style="left:6.00px;top:1031.00px;font-size:16.0px;transform:scaleX(0.9459);">Molding shrinkage (flow direction)</div>
<div class="t" style="left:256.20px;top:1032.00px;font-size:15.8px;transform:scaleX(0.7360);">%</div>
<div class="t" style="left:314.60px;top:1032.00px;font-size:15.8px;transform:scaleX(0.7500);">ASTM D 955</div>
<div class="t" style="left:405.70px;top:1032.00px;font-size:15.8px;transform:scaleX(0.7270);">0.5-0.7</div>
<div class="t" style="left:507.50px;top:1032.00px;font-size:15.8px;transform:scaleX(0.7270);">0.5-0.7</div>
<div class="t" style="left:609.40px;top:1032.00px;font-size:15.8px;transform:scaleX(0.7270);">0.5-0.7</div>
<div class="t" style="left:710.10px;top:1032.00px;font-size:15.8px;transform:scaleX(0.7270);">0.5-0.7</div>
<div class="t" style="left:813.00px;top:1032.00px;font-size:15.8px;transform:scaleX(0.7270);">0.5-0.7</div>
<div class="t" style="left:915.20px;top:1032.00px;font-size:15.8px;transform:scaleX(0.7270);">0.5-0.7</div>
<div class="t" style="left:1017.40px;top:1032.00px;font-size:15.8px;transform:scaleX(0.7270);">0.5-0.7</div>
<div class="t" style="left:1119.20px;top:1032.00px;font-size:15.8px;transform:scaleX(0.7270);">0.5-0.7</div>
<div class="t" style="left:1221.00px;top:1032.00px;font-size:15.8px;transform:scaleX(0.7270);">0.5-0.7</div>
<div class="t" style="left:6.00px;top:1063.00px;font-size:16.0px;transform:scaleX(0.8738);">Molding shrinkage (vertical direction)</div>
<div class="t" style="left:256.20px;top:1063.00px;font-size:15.8px;transform:scaleX(0.7360);">%</div>
<div class="t" style="left:314.60px;top:1063.00px;font-size:15.8px;transform:scaleX(0.7500);">ASTM D 955</div>
<div class="t" style="left:405.70px;top:1064.00px;font-size:15.8px;transform:scaleX(0.7270);">0.5-0.7</div>
<div class="t" style="left:507.50px;top:1064.00px;font-size:15.8px;transform:scaleX(0.7270);">0.5-0.7</div>
<div class="t" style="left:609.40px;top:1064.00px;font-size:15.8px;transform:scaleX(0.7270);">0.5-0.7</div>
<div class="t" style="left:710.10px;top:1064.00px;font-size:15.8px;transform:scaleX(0.7270);">0.5-0.7</div>
<div class="t" style="left:813.00px;top:1064.00px;font-size:15.8px;transform:scaleX(0.7270);">0.5-0.7</div>
<div class="t" style="left:915.20px;top:1064.00px;font-size:15.8px;transform:scaleX(0.7270);">0.5-0.7</div>
<div class="t" style="left:1017.40px;top:1064.00px;font-size:15.8px;transform:scaleX(0.7270);">0.5-0.7</div>
<div class="t" style="left:1119.20px;top:1064.00px;font-size:15.8px;transform:scaleX(0.7270);">0.5-0.7</div>
<div class="t" style="left:1221.00px;top:1064.00px;font-size:15.8px;transform:scaleX(0.7270);">0.5-0.7</div>
<div class="t" style="left:6.00px;top:1094.00px;font-size:16.0px;transform:scaleX(0.9901);">MFR(240 <span class="dc">C</span>/5kg)</div>
<div class="t" style="left:256.20px;top:1095.00px;font-size:15.8px;transform:scaleX(0.7360);">g/10min</div>
<div class="t" style="left:314.60px;top:1095.00px;font-size:15.8px;transform:scaleX(0.7500);">ASTM D 1238</div>
<div class="t" style="left:405.70px;top:1095.00px;font-size:15.8px;transform:scaleX(0.7270);">20</div>
<div class="t" style="left:507.50px;top:1095.00px;font-size:15.8px;transform:scaleX(0.7270);">18</div>
<div class="t" style="left:609.40px;top:1095.00px;font-size:15.8px;transform:scaleX(0.7270);">24</div>
<div class="t" style="left:710.10px;top:1095.00px;font-size:15.8px;transform:scaleX(0.7270);">15</div>
<div class="t" style="left:813.00px;top:1095.00px;font-size:15.8px;transform:scaleX(0.7270);">15</div>
<div class="t" style="left:915.20px;top:1095.00px;font-size:15.8px;transform:scaleX(0.7270);">22</div>
<div class="t" style="left:1017.40px;top:1095.00px;font-size:15.8px;transform:scaleX(0.7270);">20</div>
<div class="t" style="left:1119.20px;top:1095.00px;font-size:15.8px;transform:scaleX(0.7270);">12</div>
<div class="t" style="left:1221.00px;top:1095.00px;font-size:15.8px;transform:scaleX(0.7270);">10</div>
<div class="t" style="left:6.00px;top:1126.00px;font-size:16.0px;transform:scaleX(0.9782);">Surface resistivity</div>
<div class="t" style="left:256.20px;top:1125.00px;font-size:15.8px;transform:scaleX(0.7360);">Ohm</div>
<div class="t" style="left:314.60px;top:1125.00px;font-size:15.8px;transform:scaleX(0.7500);">IEC 60093</div>
<div class="t" style="left:405.70px;top:1126.00px;font-size:15.8px;transform:scaleX(0.7270);">1E+10~1E+11</div>
<div class="t" style="left:507.50px;top:1126.00px;font-size:15.8px;transform:scaleX(0.7270);">1E+10~1E+11</div>
<div class="t" style="left:609.40px;top:1126.00px;font-size:15.8px;transform:scaleX(0.7270);">1E+10~1E+11</div>
<div class="t" style="left:710.10px;top:1126.00px;font-size:15.8px;transform:scaleX(0.7270);">1E+10~1E+11</div>
<div class="t" style="left:813.00px;top:1126.00px;font-size:15.8px;transform:scaleX(0.7270);">1E+10~1E+11</div>
<div class="t" style="left:6.00px;top:1159.00px;font-size:16.0px;transform:scaleX(0.9842);">Process suggestion</div>
<div class="t" style="left:6.00px;top:1191.00px;font-size:16.0px;transform:scaleX(0.9817);">Melting temperature</div>
<div class="r" style="left:256.90px;top:1194.50px;width:4.9px;height:4.9px;border:1.3px solid #231f20;border-radius:50%;box-sizing:border-box;"></div>
<div class="t" style="left:262.24px;top:1195.00px;font-size:15.8px;transform:scaleX(0.6999);">C</div>
<div class="t" style="left:405.70px;top:1194.00px;font-size:15.8px;transform:scaleX(0.7270);">230-260</div>
<div class="t" style="left:507.50px;top:1194.00px;font-size:15.8px;transform:scaleX(0.7270);">230-260</div>
<div class="t" style="left:609.40px;top:1194.00px;font-size:15.8px;transform:scaleX(0.7270);">230-260</div>
<div class="t" style="left:710.10px;top:1194.00px;font-size:15.8px;transform:scaleX(0.7270);">230-260</div>
<div class="t" style="left:813.00px;top:1194.00px;font-size:15.8px;transform:scaleX(0.7270);">230-260</div>
<div class="t" style="left:915.20px;top:1194.00px;font-size:15.8px;transform:scaleX(0.7270);">240-280</div>
<div class="t" style="left:1017.40px;top:1194.00px;font-size:15.8px;transform:scaleX(0.7270);">240-280</div>
<div class="t" style="left:1119.20px;top:1194.00px;font-size:15.8px;transform:scaleX(0.7270);">240-280</div>
<div class="t" style="left:1221.00px;top:1194.00px;font-size:15.8px;transform:scaleX(0.7270);">240-280</div>
<div class="t" style="left:6.00px;top:1222.00px;font-size:16.0px;transform:scaleX(0.9777);">Mould temperature</div>
<div class="r" style="left:256.90px;top:1225.70px;width:4.9px;height:4.9px;border:1.3px solid #231f20;border-radius:50%;box-sizing:border-box;"></div>
<div class="t" style="left:262.24px;top:1226.00px;font-size:15.8px;transform:scaleX(0.6999);">C</div>
<div class="t" style="left:405.70px;top:1225.00px;font-size:15.8px;transform:scaleX(0.7270);">60-90</div>
<div class="t" style="left:507.50px;top:1225.00px;font-size:15.8px;transform:scaleX(0.7270);">60-90</div>
<div class="t" style="left:609.40px;top:1225.00px;font-size:15.8px;transform:scaleX(0.7270);">60-90</div>
<div class="t" style="left:710.10px;top:1225.00px;font-size:15.8px;transform:scaleX(0.7270);">60-90</div>
<div class="t" style="left:813.00px;top:1225.00px;font-size:15.8px;transform:scaleX(0.7270);">60-90</div>
<div class="t" style="left:915.20px;top:1225.00px;font-size:15.8px;transform:scaleX(0.7270);">60-90</div>
<div class="t" style="left:1017.40px;top:1225.00px;font-size:15.8px;transform:scaleX(0.7270);">60-90</div>
<div class="t" style="left:1119.20px;top:1225.00px;font-size:15.8px;transform:scaleX(0.7270);">60-90</div>
<div class="t" style="left:1221.00px;top:1225.00px;font-size:15.8px;transform:scaleX(0.7270);">60-90</div>
<div class="t" style="left:6.00px;top:1254.00px;font-size:16.0px;transform:scaleX(0.9836);">Drying temperature</div>
<div class="r" style="left:256.90px;top:1258.20px;width:4.9px;height:4.9px;border:1.3px solid #231f20;border-radius:50%;box-sizing:border-box;"></div>
<div class="t" style="left:262.24px;top:1259.00px;font-size:15.8px;transform:scaleX(0.6999);">C</div>
<div class="t" style="left:405.70px;top:1257.00px;font-size:15.8px;transform:scaleX(0.7270);">100-110</div>
<div class="t" style="left:507.50px;top:1257.00px;font-size:15.8px;transform:scaleX(0.7270);">100-110</div>
<div class="t" style="left:609.40px;top:1257.00px;font-size:15.8px;transform:scaleX(0.7270);">100-110</div>
<div class="t" style="left:710.10px;top:1257.00px;font-size:15.8px;transform:scaleX(0.7270);">100-110</div>
<div class="t" style="left:813.00px;top:1257.00px;font-size:15.8px;transform:scaleX(0.7270);">100-110</div>
<div class="t" style="left:915.20px;top:1257.00px;font-size:15.8px;transform:scaleX(0.7270);">100-110</div>
<div class="t" style="left:1017.40px;top:1257.00px;font-size:15.8px;transform:scaleX(0.7270);">100-110</div>
<div class="t" style="left:1119.20px;top:1257.00px;font-size:15.8px;transform:scaleX(0.7270);">100-110</div>
<div class="t" style="left:1221.00px;top:1257.00px;font-size:15.8px;transform:scaleX(0.7270);">100-110</div>
<div class="t" style="left:6.00px;top:1288.00px;font-size:16.0px;transform:scaleX(0.9812);">Drying time</div>
<div class="t" style="left:256.20px;top:1289.00px;font-size:15.8px;transform:scaleX(0.7360);">hrs</div>
<div class="t" style="left:405.70px;top:1289.00px;font-size:15.8px;transform:scaleX(0.7270);">4-6</div>
<div class="t" style="left:507.50px;top:1289.00px;font-size:15.8px;transform:scaleX(0.7270);">4-6</div>
<div class="t" style="left:609.40px;top:1289.00px;font-size:15.8px;transform:scaleX(0.7270);">4-6</div>
<div class="t" style="left:710.10px;top:1289.00px;font-size:15.8px;transform:scaleX(0.7270);">4-6</div>
<div class="t" style="left:813.00px;top:1289.00px;font-size:15.8px;transform:scaleX(0.7270);">4-6</div>
<div class="t" style="left:915.20px;top:1289.00px;font-size:15.8px;transform:scaleX(0.7270);">4-6</div>
<div class="t" style="left:1017.40px;top:1289.00px;font-size:15.8px;transform:scaleX(0.7270);">4-6</div>
<div class="t" style="left:1119.20px;top:1289.00px;font-size:15.8px;transform:scaleX(0.7270);">4-6</div>
<div class="t" style="left:1221.00px;top:1289.00px;font-size:15.8px;transform:scaleX(0.7270);">4-6</div>
<div class="t" style="left:6.00px;top:1319.00px;font-size:16.0px;transform:scaleX(0.9824);">Processing moisture content</div>
<div class="t" style="left:256.20px;top:1321.00px;font-size:15.8px;transform:scaleX(0.7360);">%</div>
<div class="t" style="left:405.70px;top:1322.00px;font-size:15.8px;transform:scaleX(0.7270);">&lt;0.02</div>
<div class="t" style="left:507.50px;top:1322.00px;font-size:15.8px;transform:scaleX(0.7270);">&lt;0.02</div>
<div class="t" style="left:609.40px;top:1322.00px;font-size:15.8px;transform:scaleX(0.7270);">&lt;0.02</div>
<div class="t" style="left:710.10px;top:1322.00px;font-size:15.8px;transform:scaleX(0.7270);">&lt;0.02</div>
<div class="t" style="left:813.00px;top:1322.00px;font-size:15.8px;transform:scaleX(0.7270);">&lt;0.02</div>
<div class="t" style="left:915.20px;top:1322.00px;font-size:15.8px;transform:scaleX(0.7270);">&lt;0.02</div>
<div class="t" style="left:1017.40px;top:1322.00px;font-size:15.8px;transform:scaleX(0.7270);">&lt;0.02</div>
<div class="t" style="left:1119.20px;top:1322.00px;font-size:15.8px;transform:scaleX(0.7270);">&lt;0.02</div>
<div class="t" style="left:1221.00px;top:1322.00px;font-size:15.8px;transform:scaleX(0.7270);">&lt;0.02</div>
<div class="t" style="left:6.00px;top:1352.00px;font-size:16.0px;transform:scaleX(0.9840);">Application</div>
<div class="t" style="left:404.85px;top:1345.00px;font-size:14.5px;transform:scaleX(1.0315);">Glasses box, rearview mirror, sun visor, grille, automobile door pillar decorative board, window frames and other automotive interiors</div>
<div class="t" style="left:404.97px;top:1359.00px;font-size:14.5px;transform:scaleX(1.0300);">and exteriors, shells of indoor and outdoor electrics.</div>
<div class="t" style="left:6.26px;top:1392.00px;font-size:18.7px;transform:scaleX(0.8721);">Note: 1. The above data were experimental typical values and not promised for the formal quality assurance.</div>
<div class="t" style="left:48.09px;top:1411.00px;font-size:18.7px;transform:scaleX(0.8692);">2. The above data were measured at 23°C and 50% humidity with injection spline.</div>
</div></body></html>
